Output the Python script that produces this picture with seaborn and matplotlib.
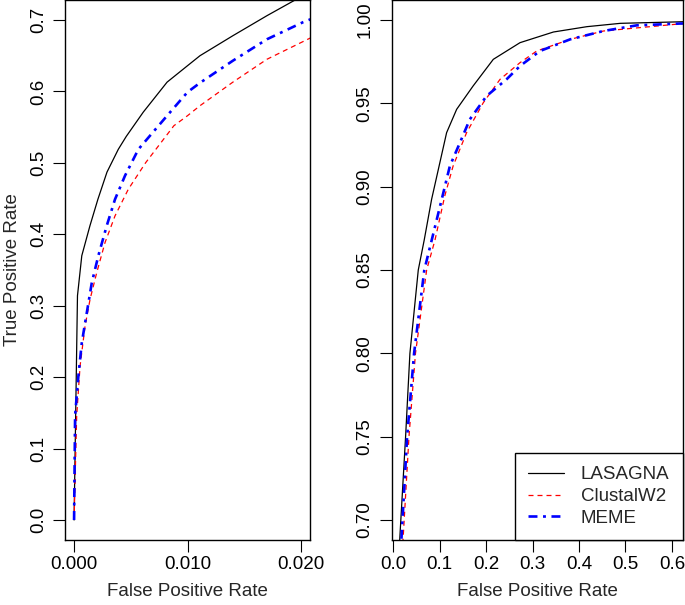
import pandas as pd
import matplotlib
matplotlib.use("Agg")
import matplotlib.pyplot as plt
import seaborn as sns

methods = ["LASAGNA", "ClustalW2", "MEME"]

# left panel: low false positive range
left_fpr = {
    "LASAGNA": [0, 0.0003, 0.00068, 0.0014, 0.0021, 0.0029, 0.0039, 0.0046, 0.0061,
                0.0082, 0.0100, 0.0111, 0.014, 0.017, 0.0196, 0.0215],
    "ClustalW2": [0, 0.00023, 0.00053, 0.00097, 0.00141, 0.002, 0.00273, 0.00361,
                  0.00478, 0.0063, 0.0088, 0.0100, 0.0111, 0.014, 0.017, 0.0215],
    "MEME": [0, 0.00009, 0.00038, 0.00068, 0.00112, 0.00156, 0.00214, 0.00288, 0.00361,
             0.00449, 0.00567, 0.0082, 0.0100, 0.0111, 0.014, 0.017, 0.0202, 0.0215],
}
left_tpr = {
    "LASAGNA": [0, 0.314, 0.37, 0.412, 0.449, 0.487, 0.519, 0.537, 0.571,
                0.613, 0.636, 0.650, 0.678, 0.706, 0.729, 0.74],
    "ClustalW2": [0, 0.146, 0.2157, 0.2717, 0.309, 0.3465, 0.3885, 0.4258,
                  0.463, 0.50, 0.552, 0.566, 0.58, 0.613, 0.645, 0.68],
    "MEME": [0, 0.146, 0.2017, 0.248, 0.29, 0.332, 0.37, 0.412, 0.449,
             0.482, 0.519, 0.566, 0.599, 0.612, 0.643, 0.673, 0.697, 0.705],
}

# right panel: full false positive range
right_fpr = {
    "LASAGNA": [0.012, 0.0144, 0.0267, 0.036, 0.054, 0.0668, 0.0827, 0.115, 0.1366,
                0.172, 0.2155, 0.273, 0.345, 0.417, 0.489, 0.63],
    "ClustalW2": [0.018, 0.0216, 0.034, 0.048, 0.072, 0.090, 0.111, 0.129, 0.158,
                  0.194, 0.23, 0.273, 0.309, 0.381, 0.4526, 0.63],
    "MEME": [0.015, 0.018, 0.030, 0.045, 0.067, 0.083, 0.108, 0.122, 0.1437, 0.165,
             0.201, 0.244, 0.273, 0.316, 0.381, 0.4526, 0.5245, 0.63],
}
right_tpr = {
    "LASAGNA": [0.675, 0.690, 0.75, 0.80, 0.85, 0.868, 0.8924, 0.9324, 0.9464,
                0.9604, 0.9764, 0.9864, 0.9928, 0.996, 0.998, 0.999],
    "ClustalW2": [0.675, 0.690, 0.75, 0.80, 0.85, 0.868, 0.8944, 0.9124, 0.9324,
                  0.9504, 0.9644, 0.9744, 0.9814, 0.9884, 0.9934, 0.998],
    "MEME": [0.675, 0.690, 0.75, 0.80, 0.85, 0.868, 0.8964, 0.9124, 0.9264, 0.9404,
             0.9544, 0.9644, 0.9724, 0.9814, 0.9884, 0.9934, 0.9968, 0.998],
}

left_xticks = [0, 0.01, 0.02]
left_xticklabels = ["0.000", "0.010", "0.020"]
left_yticks = [0, 0.1, 0.2, 0.3, 0.4, 0.5, 0.6, 0.7]
left_yticklabels = ["0.0", "0.1", "0.2", "0.3", "0.4", "0.5", "0.6", "0.7"]
right_xticks = [0, 0.1, 0.2, 0.3, 0.4, 0.5, 0.6]
right_xticklabels = ["0.0", "0.1", "0.2", "0.3", "0.4", "0.5", "0.6"]
right_yticks = [0.70, 0.75, 0.80, 0.85, 0.90, 0.95, 1.00]
right_yticklabels = ["0.70", "0.75", "0.80", "0.85", "0.90", "0.95", "1.00"]

styles = {
    "LASAGNA": dict(color="black", lw=0.9, linestyle="-"),
    "ClustalW2": dict(color="red", lw=0.9, linestyle=(0, (4, 3.2))),
    "MEME": dict(color="blue", lw=1.9, linestyle=(0, (3.4, 2.1, 1.1, 2.1))),
}

sns.set_style("ticks")
plt.rcParams["font.family"] = ["Liberation Sans", "DejaVu Sans"]
plt.rcParams["axes.edgecolor"] = "black"
plt.rcParams["xtick.color"] = "black"
plt.rcParams["ytick.color"] = "black"
FS = 13.5


def long_table(fpr, tpr):
    rows = []
    for m in methods:
        rows.append(pd.DataFrame({"method": m, "fpr": fpr[m], "tpr": tpr[m]}))
    return pd.concat(rows, ignore_index=True)


def draw_panel(ax, df, xlim, ylim, xticks, xticklabels, yticks, yticklabels):
    for m in methods:
        sub = df[df["method"] == m]
        sns.lineplot(data=sub, x="fpr", y="tpr", ax=ax, sort=False, estimator=None,
                     label=m, legend=False, **styles[m])
    ax.set_xlim(*xlim)
    ax.set_ylim(*ylim)
    ax.set_xticks(xticks)
    ax.set_xticklabels(xticklabels, fontsize=FS)
    ax.set_yticks(yticks)
    ax.set_yticklabels(yticklabels, fontsize=FS, rotation=90, va="center")
    ax.tick_params(direction="out", length=8.6, width=0.8)
    ax.tick_params(axis="x", pad=3)
    ax.tick_params(axis="y", pad=4.5)
    for s in ax.spines.values():
        s.set_linewidth(1.0)
        s.set_color("black")
    ax.set_xlabel("False Positive Rate", fontsize=FS)
    ax.xaxis.set_label_coords(0.5, -0.08)
    ax.set_ylabel("")


fig = plt.figure(figsize=(6.85, 6.05), dpi=100)
ax1 = fig.add_axes([65 / 685, 65 / 605, 245 / 685, 540 / 605])
ax2 = fig.add_axes([391.7 / 685, 65 / 605, 291 / 685, 540 / 605])

draw_panel(ax1, long_table(left_fpr, left_tpr), (-0.0008, 0.0208), (-0.028, 0.728),
           left_xticks, left_xticklabels, left_yticks, left_yticklabels)
ax1.set_ylabel("True Positive Rate", fontsize=FS)
ax1.yaxis.set_label_coords(-0.181, 0.5)

draw_panel(ax2, long_table(right_fpr, right_tpr), (-0.0032, 0.6232), (0.688, 1.012),
           right_xticks, right_xticklabels, right_yticks, right_yticklabels)

handles, labels = ax2.get_legend_handles_labels()
leg = ax2.legend(handles, labels, loc="lower right", bbox_to_anchor=(1, 0),
                 borderaxespad=0, fontsize=FS, frameon=True, fancybox=False,
                 framealpha=1, edgecolor="black", handlelength=1.9,
                 handletextpad=0.9, labelspacing=0.25, borderpad=0.7)
leg.get_frame().set_linewidth(1.0)

fig.savefig("out.png", dpi=100)
